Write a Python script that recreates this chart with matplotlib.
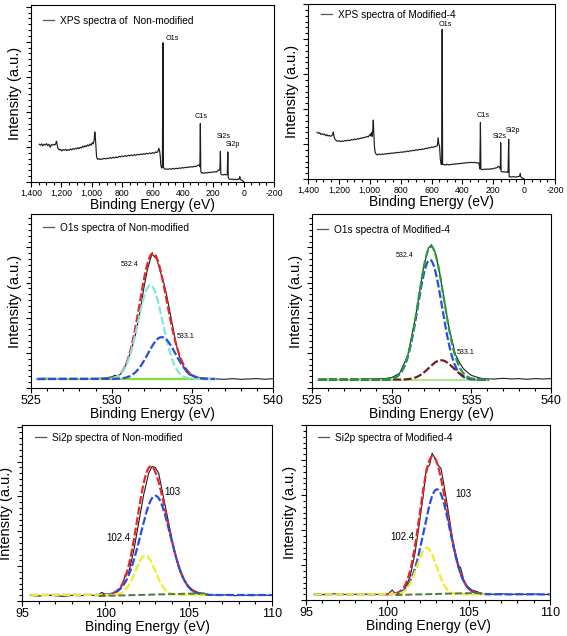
import numpy as np
import matplotlib
matplotlib.use("Agg")
import matplotlib.pyplot as plt
from matplotlib.ticker import MultipleLocator, FuncFormatter, NullFormatter
from matplotlib.lines import Line2D

plt.rcParams['font.family'] = ['Liberation Sans', 'DejaVu Sans']
plt.rcParams['axes.unicode_minus'] = False

# ---------------- data ----------------
# Survey, non-modified
sv_non_E = [1345, 1338, 1330, 1322, 1315, 1306, 1298, 1290, 1282, 1273, 1266, 1258, 1250, 1242, 1236, 1232,
            1228, 1222, 1214, 1206, 1198, 1190, 1180, 1172, 1164, 1156, 1148, 1140, 1132, 1124, 1116, 1108,
            1100, 1092, 1084, 1076, 1068, 1060, 1052, 1044, 1036, 1028, 1020, 1012, 1004, 996, 990, 984,
            980, 977, 973, 968, 962, 954, 946, 938, 930, 920, 910, 900, 890, 880, 870, 860, 850, 840, 830,
            820, 810, 800, 790, 780, 770, 760, 750, 740, 730, 720, 710, 700, 690, 680, 670, 660, 650, 640,
            630, 620, 610, 600, 590, 580, 572, 565, 558, 553, 549, 545, 540, 535, 531, 528, 523, 515, 505,
            495, 485, 475, 465, 455, 445, 435, 425, 415, 405, 395, 385, 375, 365, 355, 345, 335, 325, 315,
            305, 298, 292, 288, 285, 282, 278, 270, 260, 250, 240, 230, 220, 210, 200, 190, 180, 172, 165,
            160, 156, 153, 150, 145, 135, 125, 115, 108, 104, 101, 95, 85, 75, 65, 55, 45, 38, 32, 27, 25,
            23, 18, 12, 6, 0]
sv_non_I = [113, 110, 114, 108, 113, 111, 115, 109, 113, 104, 112, 110, 113, 111, 116, 122,
            112, 100, 96, 98, 93, 97, 95, 98, 94, 97, 95, 99, 96, 100, 98, 101,
            99, 103, 100, 104, 102, 107, 104, 109, 106, 111, 108, 114, 110, 118, 114, 126,
            150, 138, 112, 75, 68, 70, 67, 69, 68, 71, 69, 71, 70, 73, 71, 74, 72, 75, 73,
            77, 75, 78, 76, 79, 77, 80, 78, 81, 79, 82, 80, 83, 81, 84, 82, 85, 83, 86,
            84, 87, 85, 88, 86, 90, 88, 91, 101, 92, 78, 50, 42, 44, 417, 45, 40, 38, 39,
            38, 40, 38, 41, 39, 41, 40, 42, 41, 43, 42, 44, 43, 45, 44, 46, 45, 47, 46,
            49, 51, 50, 46, 175, 32, 27, 28, 26, 28, 27, 29, 28, 30, 29, 31, 30, 33, 36,
            35, 40, 92, 24, 22, 21, 23, 21, 22, 90, 12, 9, 8, 9, 7, 8, 7, 9, 8, 11, 16,
            9, 6, 5, 3, 1]

# Survey, modified-4
sv_mod_E = [1341, 1333, 1325, 1318, 1310, 1302, 1294, 1286, 1278, 1270, 1262, 1254, 1246, 1240, 1236, 1232,
            1226, 1218, 1210, 1200, 1190, 1180, 1170, 1160, 1150, 1140, 1130, 1120, 1110, 1100, 1090, 1080,
            1070, 1060, 1050, 1040, 1030, 1020, 1010, 1002, 996, 992, 988, 984, 980, 977, 974, 970, 965,
            958, 950, 940, 930, 920, 910, 900, 890, 880, 870, 860, 850, 840, 830, 820, 810, 800, 790, 780,
            770, 760, 750, 740, 730, 720, 710, 700, 690, 680, 670, 660, 650, 640, 630, 620, 610, 600, 590,
            580, 570, 562, 557, 553, 548, 543, 538, 534, 531, 528, 520, 510, 500, 490, 480, 470, 460, 450,
            440, 430, 420, 410, 400, 390, 380, 370, 360, 350, 340, 330, 320, 310, 300, 292, 287, 283, 280,
            275, 265, 255, 245, 235, 225, 215, 205, 195, 185, 175, 168, 162, 158, 154, 152, 149, 140, 130,
            120, 110, 104, 100, 97, 85, 70, 55, 40, 30, 25, 22, 15, 8, 2]
sv_mod_I = [140, 137, 139, 134, 136, 133, 135, 130, 133, 129, 131, 128, 130, 134, 141, 128,
            120, 116, 113, 115, 112, 114, 113, 116, 114, 117, 115, 118, 117, 120, 118, 121,
            120, 123, 122, 125, 124, 128, 126, 131, 135, 129, 140, 128, 150, 177, 140, 100, 80,
            74, 72, 75, 73, 75, 74, 76, 75, 77, 76, 78, 77, 79, 78, 80, 79, 81, 80, 82,
            81, 84, 82, 85, 84, 86, 85, 88, 86, 89, 88, 90, 89, 92, 91, 94, 93, 96, 95,
            97, 98, 100, 124, 105, 100, 60, 44, 43, 449, 44, 43, 42, 44, 42, 44, 43, 45, 44,
            46, 45, 47, 46, 48, 47, 49, 48, 50, 49, 50, 49, 50, 48, 49, 47, 30, 169, 30,
            29, 28, 30, 29, 30, 29, 31, 30, 32, 33, 34, 38, 36, 35, 30, 109, 23, 21, 22,
            20, 21, 20, 119, 7, 6, 7, 6, 7, 8, 17, 7, 4, 2, 1]

survey_peak_names = ['O1s', 'C1s', 'Si2s', 'Si2p']
survey_non_label_E = [516, 281, 132, 68]
survey_non_label_I = [430, 195, 137, 112]
survey_mod_label_E = [509, 265, 155, 73]
survey_mod_label_I = [464, 190, 127, 147]

# O1s raw spectra
o1s_non_E = [525.4, 526, 526.5, 527, 527.5, 528, 528.5, 529, 529.5, 530, 530.2, 530.4, 530.6, 530.8, 531,
             531.2, 531.5, 531.8, 532, 532.2, 532.4, 532.5, 532.6, 532.8, 533, 533.2, 533.4, 533.6, 533.8,
             534, 534.2, 534.4, 534.6, 534.8, 535, 535.2, 535.5, 536, 536.5, 537, 537.5, 538, 538.5, 539,
             539.5, 540]
o1s_non_I = [27, 29, 27, 28, 27, 27, 28, 28, 30, 33, 38, 34, 45, 60, 85,
             110, 165, 240, 300, 350, 385, 400, 395, 385, 350, 320, 280, 230, 180,
             130, 95, 70, 50, 40, 36, 32, 30, 28, 27, 26, 28, 26, 27, 28,
             26, 28]
o1s_mod_E = [525.4, 526, 526.5, 527, 527.5, 528, 528.5, 529, 529.5, 530, 530.5, 531, 531.5, 532, 532.3,
             532.5, 532.7, 533, 533.3, 533.6, 534, 534.3, 534.5, 534.8, 535, 535.3, 535.6, 536, 536.5,
             537, 537.5, 538, 538.5, 539, 539.5, 540]
o1s_mod_I = [25, 26, 25, 26, 25, 26, 27, 27, 28, 31, 44, 96, 212, 360, 418,
             428, 410, 348, 262, 180, 100, 72, 58, 45, 38, 33, 29, 27, 27,
             29, 27, 28, 26, 28, 27, 28]

# O1s fitted components: centre (eV), height, FWHM (eV)
o1s_peaks = [532.4, 533.1]
o1s_non_heights = [280, 125]
o1s_non_fwhm = [1.8, 2.0]
o1s_non_base = 27
o1s_mod_heights = [358, 58]
o1s_mod_fwhm = [1.8, 1.8]
o1s_mod_base = 25

# Si2p raw spectra
si_non_E = [95.5, 96, 96.5, 97, 97.5, 98, 98.5, 99, 99.5, 99.8, 100.1, 100.4, 100.7, 101.0, 101.2, 101.4,
            101.7, 102.0, 102.3, 102.6, 102.8, 103.0, 103.2, 103.5, 103.8, 104.1, 104.4, 104.6, 104.9,
            105.2, 105.5, 105.9, 106.3, 106.8, 107.3, 107.8, 108.3, 108.8, 109.3, 109.8, 110]
si_non_I = [17, 15, 18, 16, 14, 17, 16, 18, 16, 26, 16, 22, 28, 45, 80, 85,
            150, 235, 320, 385, 405, 402, 385, 310, 235, 160, 100, 75, 50,
            35, 27, 22, 19, 17, 19, 16, 18, 16, 19, 17, 18]
si_mod_E = [95.5, 96, 96.5, 97, 97.5, 98, 98.5, 99, 99.5, 100, 100.3, 100.5, 100.8, 101.1, 101.4, 101.7,
            102.0, 102.2, 102.4, 102.6, 102.75, 102.9, 103.1, 103.3, 103.5, 103.8, 104.0, 104.2, 104.4,
            104.5, 104.7, 104.9, 105.2, 105.5, 105.8, 106.2, 106.6, 107, 107.5, 108, 108.5, 109, 109.5, 110]
si_mod_I = [17, 16, 18, 19, 16, 17, 18, 16, 17, 16, 30, 18, 20, 35, 70, 140,
            240, 310, 395, 405, 440, 428, 405, 395, 340, 250, 185, 140, 100,
            98, 60, 42, 30, 25, 20, 18, 17, 19, 16, 18, 17, 18, 16, 17]

# Si2p fitted components: centre (eV), height, FWHM (eV)
si_peaks = [103.0, 102.4]
si_non_heights = [299, 119]
si_non_fwhm = [2.1, 1.4]
si_non_base = 18
si_mod_heights = [315, 140]
si_mod_fwhm = [1.9, 1.4]
si_mod_centres = [103.05, 102.42]
si_mod_base = 17

# Si2p background (dark green dashed)
si_non_bg_E = [99.6, 104.9, 106.0]
si_non_bg_I = [15, 22, 23]
si_mod_bg_E = [100.5, 104.5, 106.0]
si_mod_bg_I = [15, 20, 21]

# ---------------- helpers ----------------
W, H = 567, 636
fig = plt.figure(figsize=(W / 100, H / 100), dpi=100)

RED = '#e8262a'
CYAN = '#82e6da'
BLUE = '#2a4de0'
LGREEN = '#80e03a'
SUMGREEN = '#24a03a'
MAROON = '#6e1e24'
YELLOW = '#eeec2c'
DKGREEN = '#4e7a3c'
RAW = '#1e1e1e'


def add_ax(l, r, t, b):
    ax = fig.add_axes([l / W, 1 - b / H, (r - l) / W, (b - t) / H])
    ax._px = (r - l, b - t)
    return ax


def style(ax, xlim, ylim, xmaj, xmin, tick_fs, fmt=None):
    ax.set_xlim(*xlim)
    ax.set_ylim(*ylim)
    ax.xaxis.set_major_locator(MultipleLocator(xmaj))
    ax.xaxis.set_minor_locator(MultipleLocator(xmin))
    ax.yaxis.set_major_locator(MultipleLocator(105))
    ax.yaxis.set_minor_locator(MultipleLocator(17.5))
    ax.yaxis.set_major_formatter(NullFormatter())
    if fmt is not None:
        ax.xaxis.set_major_formatter(fmt)
    ax.tick_params(which='major', direction='out', length=3.6, width=0.8, labelsize=tick_fs, pad=1.2)
    ax.tick_params(which='minor', direction='out', length=2.2, width=0.8)
    for s in ax.spines.values():
        s.set_linewidth(0.8)
    ax.set_xlabel('Binding Energy (eV)', fontsize=10, labelpad=0)
    ax.set_ylabel('Intensity (a.u.)', fontsize=10.5, labelpad=0.8)


def legend(ax, text, dx, dy):
    wpx, hpx = ax._px
    h = Line2D([], [], color='#555555', lw=0.9)
    ax.legend([h], [text], loc='upper left', bbox_to_anchor=(dx / wpx, 1 - dy / hpx),
              frameon=False, fontsize=7.3, handlelength=1.1, handletextpad=0.6,
              borderpad=0, borderaxespad=0)


def gauss(x, c, h, fwhm):
    return h * np.exp(-4 * np.log(2) * (x - c) ** 2 / fwhm ** 2)


def dashed(ax, x, y, color, z):
    ax.plot(x, y, color=color, lw=1.6, dashes=(3.6, 1.2), zorder=z)


comma_fmt = FuncFormatter(lambda v, p: f"{int(round(v)):,}")

# ---------------- survey panels ----------------
for (l, r, t, b), E, I, lab, lE, lI, ylim, ha, lpos in [
        ((31, 274, 5, 182), sv_non_E, sv_non_I, 'XPS spectra of  Non-modified',
         survey_non_label_E, survey_non_label_I, 530, ['left', 'center', 'center', 'center'], (12, 11)),
        ((308, 555, 4, 179), sv_mod_E, sv_mod_I, 'XPS spectra of Modified-4',
         survey_mod_label_E, survey_mod_label_I, 525, ['center', 'center', 'center', 'center'], (13, 6))]:
    ax = add_ax(l, r, t, b)
    ax.plot(E, I, color=RAW, lw=0.85)
    for name, x, y, h in zip(survey_peak_names, lE, lI, ha):
        ax.text(x, y, name, fontsize=5.2, ha=h, va='center')
    style(ax, (1400, -200), (0, ylim), 200, 50, 6.3, comma_fmt)
    legend(ax, lab, *lpos)

# ---------------- O1s panels ----------------
xf = np.linspace(525.4, 536.4, 500)
# non-modified
ax = add_ax(31, 273, 214, 388)
ax.plot(o1s_non_E, o1s_non_I, color=RAW, lw=0.8, zorder=2)
ax.plot(xf, np.full_like(xf, o1s_non_base), color=LGREEN, lw=1.6, zorder=3)
c1 = gauss(xf, o1s_peaks[0], o1s_non_heights[0], o1s_non_fwhm[0])
c2 = gauss(xf, o1s_peaks[1], o1s_non_heights[1], o1s_non_fwhm[1])
dashed(ax, xf, o1s_non_base + c1 + c2, RED, 4)
dashed(ax, xf, o1s_non_base + c1, CYAN, 5)
dashed(ax, xf, o1s_non_base + c2, BLUE, 6)
ax.text(531.13, 370, '532.4', fontsize=5, ha='center', va='center')
ax.text(534.58, 155, '533.1', fontsize=5, ha='center', va='center')
style(ax, (525, 540), (0, 520), 5, 1, 9)
legend(ax, 'O1s spectra of Non-modified', 12, 9)

# modified-4
xf2 = np.linspace(525.4, 536.1, 500)
ax = add_ax(312, 551, 214, 388)
ax.plot(o1s_mod_E, o1s_mod_I, color=RAW, lw=0.8, zorder=2)
ax.plot(xf2, np.full_like(xf2, o1s_mod_base), color='#9be870', lw=1.2, zorder=3)
d1 = gauss(xf2, o1s_peaks[0], o1s_mod_heights[0], o1s_mod_fwhm[0])
d2 = gauss(xf2, o1s_peaks[1], o1s_mod_heights[1], o1s_mod_fwhm[1])
dashed(ax, xf2, o1s_mod_base + d1, BLUE, 4)
dashed(ax, xf2, o1s_mod_base + d2, MAROON, 5)
dashed(ax, xf2, o1s_mod_base + d1 + d2, SUMGREEN, 6)
ax.text(530.79, 395, '532.4', fontsize=5, ha='center', va='center')
ax.text(534.66, 105, '533.1', fontsize=5, ha='center', va='center')
style(ax, (525, 540), (0, 520), 5, 1, 9)
legend(ax, 'O1s spectra of Modified-4', 5, 11)

# ---------------- Si2p panels ----------------
xs_full = np.linspace(95.5, 110, 600)
xs_y = np.linspace(95.5, 106.0, 500)
xs_r = np.linspace(99.8, 105.8, 400)
for (l, r, t, b), E, I, heights, fwhm, centres, base, bgE, bgI, lab, ylim, p103, p1024, lpos in [
        ((22, 272, 425, 601), si_non_E, si_non_I, si_non_heights, si_non_fwhm, si_peaks, si_non_base,
         si_non_bg_E, si_non_bg_I, 'Si2p spectra of Non-modified', 530, (104.02, 327), (100.78, 190), (13, 8)),
        ((306, 550, 425, 600), si_mod_E, si_mod_I, si_mod_heights, si_mod_fwhm, si_mod_centres, si_mod_base,
         si_mod_bg_E, si_mod_bg_I, 'Si2p spectra of Modified-4', 525, (104.67, 318), (100.93, 188), (12, 8))]:
    ax = add_ax(l, r, t, b)
    ax.plot(E, I, color=RAW, lw=0.8, zorder=2)
    dashed(ax, xs_r, base + gauss(xs_r, centres[0], heights[0], fwhm[0])
           + gauss(xs_r, centres[1], heights[1], fwhm[1]), RED, 3)
    dashed(ax, xs_full, base + gauss(xs_full, centres[0], heights[0], fwhm[0]), BLUE, 4)
    dashed(ax, xs_y, base + gauss(xs_y, centres[1], heights[1], fwhm[1]), YELLOW, 5)
    ax.plot(bgE, bgI, color=DKGREEN, lw=1.4, dashes=(3.6, 1.5), zorder=6)
    ax.text(p103[0], p103[1], '103', fontsize=7, ha='center', va='center')
    ax.text(p1024[0], p1024[1], '102.4', fontsize=7, ha='center', va='center')
    style(ax, (95, 110), (0, ylim), 5, 1, 9)
    legend(ax, lab, *lpos)

fig.savefig('out.png', dpi=100)
